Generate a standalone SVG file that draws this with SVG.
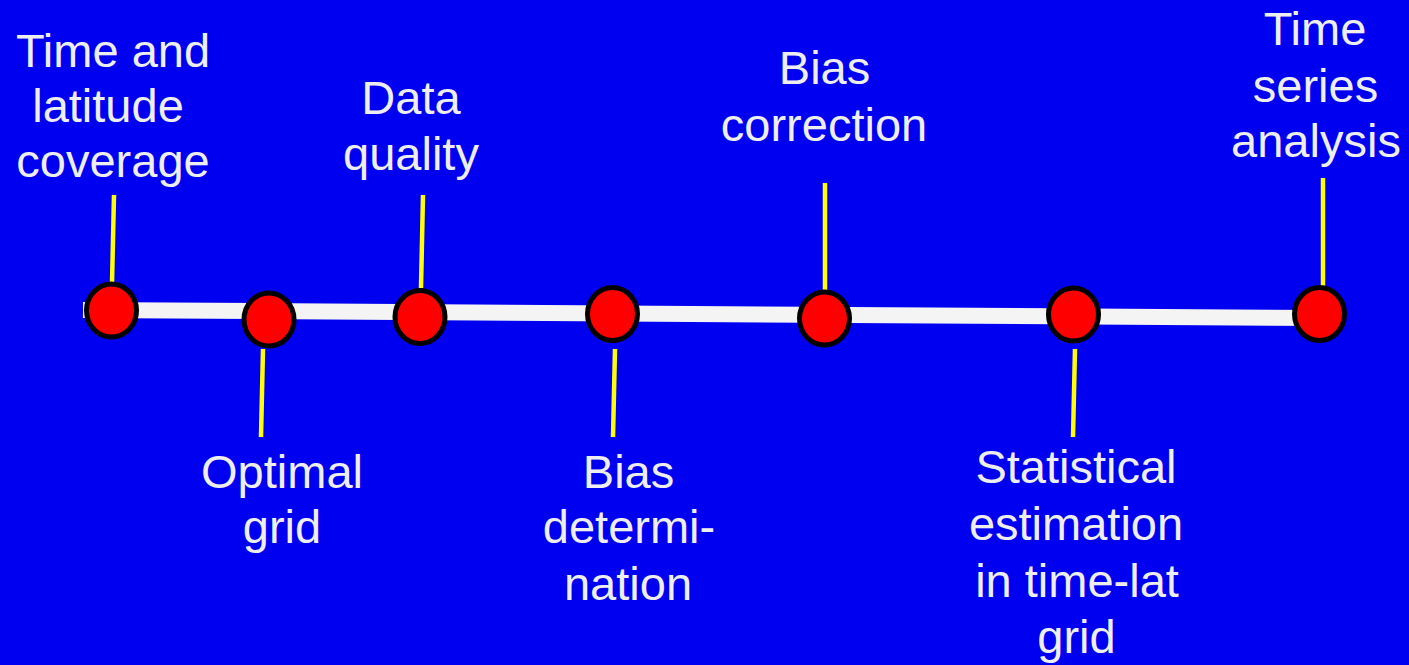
<svg xmlns="http://www.w3.org/2000/svg" width="1409" height="665" viewBox="0 0 1409 665">
<style>
.lbl{font-family:"Liberation Sans",Arial,sans-serif;font-size:47px;fill:#EEEEEE;text-anchor:middle}
.tick{stroke:#FFFF00;stroke-width:4.5}
.dot{fill:#FF0000;stroke:#000000;stroke-width:5}
</style>
<rect x="0" y="0" width="1409" height="665" fill="#0000F0"/>
<g id="connectors">
<line x1="83" y1="310" x2="1320" y2="318" stroke="#F4F4F4" stroke-width="16"/>
<line class="tick" x1="114" y1="195" x2="112" y2="284"/>
<line class="tick" x1="263" y1="349" x2="261" y2="437"/>
<line class="tick" x1="423" y1="195" x2="421" y2="288"/>
<line class="tick" x1="615" y1="349" x2="613" y2="437"/>
<line class="tick" x1="825" y1="183" x2="825" y2="291"/>
<line class="tick" x1="1075" y1="349" x2="1073" y2="437"/>
<line class="tick" x1="1323" y1="178" x2="1323" y2="287"/>
</g>
<g id="n1"><ellipse class="dot" cx="111.5" cy="310.5" rx="25" ry="26.5"/>
<text class="lbl"><tspan x="113" y="67">Time and</tspan><tspan x="108" y="122">latitude</tspan><tspan x="113" y="177">coverage</tspan></text></g>
<g id="n2"><ellipse class="dot" cx="269" cy="319.5" rx="25" ry="26.5"/>
<text class="lbl"><tspan x="282" y="488">Optimal</tspan><tspan x="282" y="543">grid</tspan></text></g>
<g id="n3"><ellipse class="dot" cx="420" cy="317" rx="25" ry="26.5"/>
<text class="lbl"><tspan x="411" y="114">Data</tspan><tspan x="411" y="170">quality</tspan></text></g>
<g id="n4"><ellipse class="dot" cx="612.5" cy="314" rx="25" ry="26.5"/>
<text class="lbl"><tspan x="628.5" y="488">Bias</tspan><tspan x="629" y="543">determi-</tspan><tspan x="628" y="600">nation</tspan></text></g>
<g id="n5"><ellipse class="dot" cx="824.5" cy="318.5" rx="25" ry="26.5"/>
<text class="lbl"><tspan x="824.5" y="84">Bias</tspan><tspan x="824" y="141">correction</tspan></text></g>
<g id="n6"><ellipse class="dot" cx="1073.5" cy="314.5" rx="25" ry="26.5"/>
<text class="lbl"><tspan x="1076" y="483">Statistical</tspan><tspan x="1076" y="540">estimation</tspan><tspan x="1077" y="597">in time-lat</tspan><tspan x="1076.5" y="653">grid</tspan></text></g>
<g id="n7"><ellipse class="dot" cx="1319.5" cy="314" rx="25" ry="26.5"/>
<text class="lbl"><tspan x="1315" y="45">Time</tspan><tspan x="1315.5" y="102">series</tspan><tspan x="1316" y="157">analysis</tspan></text></g>
</svg>
